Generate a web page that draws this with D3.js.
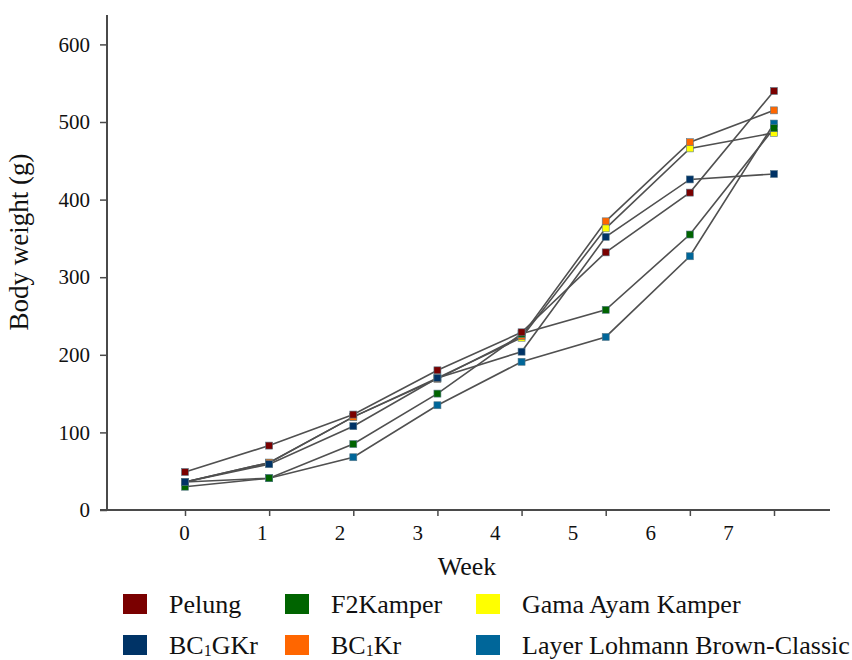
<!DOCTYPE html>
<html>
<head>
<meta charset="utf-8">
<script src="https://cdn.jsdelivr.net/npm/d3@7"></script>
<style>
  html, body { margin: 0; padding: 0; background: #fff; }
  svg { display: block; font-family: "Liberation Serif", "Times New Roman", serif; }
</style>
</head>
<body>
<svg id="chart" width="852" height="660" font-family="Liberation Serif, Times New Roman, serif"></svg>
<script>
// ---- data ----
const weeks = [0, 1, 2, 3, 4, 5, 6, 7];
const weekLabels = ["0", "1", "2", "3", "4", "5", "6", "7"];
const yTicks = [0, 100, 200, 300, 400, 500, 600];

const seriesNames = ["Gama Ayam Kamper", "Layer Lohmann Brown-Classic", "BC1Kr", "F2Kamper", "Pelung", "BC1GKr"];
const gamaAyamKamper = [36, 61, 120, 170, 222, 363, 466, 486];
const layerLohmann   = [36, 41, 68, 135, 191, 223, 327, 498];
const bc1Kr          = [36, 61, 120, 169, 224, 372, 474, 515];
const f2Kamper       = [30, 41, 85, 150, 227, 258, 355, 492];
const pelung         = [49, 83, 123, 180, 229, 332, 409, 540];
const bc1GKr         = [36, 59, 108, 170, 204, 352, 426, 433];

const seriesColors = {
  "Pelung": "#7a0000",
  "F2Kamper": "#006400",
  "Gama Ayam Kamper": "#ffff00",
  "BC1GKr": "#003366",
  "BC1Kr": "#ff6600",
  "Layer Lohmann Brown-Classic": "#006699"
};
const seriesValues = {
  "Gama Ayam Kamper": gamaAyamKamper,
  "Layer Lohmann Brown-Classic": layerLohmann,
  "BC1Kr": bc1Kr,
  "F2Kamper": f2Kamper,
  "Pelung": pelung,
  "BC1GKr": bc1GKr
};
const legendOrder = ["Pelung", "F2Kamper", "Gama Ayam Kamper", "BC1GKr", "BC1Kr", "Layer Lohmann Brown-Classic"];

// ---- chart ----
const FONT = "Liberation Serif, Times New Roman, serif";
const svg = d3.select("#chart");
const axisColor = "#4a4a4a";

const x = d3.scaleLinear().domain([0, 7]).range([185, 774]);
const xLabel = d3.scalePoint().domain(weekLabels).range([184, 728]);
const y = d3.scaleLinear().domain([0, 500]).range([510, 122]);

// X axis ticks (no labels)
const gx = svg.append("g").attr("transform", `translate(0,${y(0)})`)
  .call(d3.axisBottom(x).tickValues(weeks).tickFormat("").tickSize(6).tickSizeOuter(0));
gx.select(".domain").remove();
gx.selectAll(".tick line").attr("stroke", axisColor).attr("stroke-width", 1.5);
gx.append("line").attr("x1", 100).attr("x2", 830).attr("y1", 0).attr("y2", 0)
  .attr("stroke", axisColor).attr("stroke-width", 2);

// X labels
const gxl = svg.append("g").attr("transform", `translate(0,${y(0) + 12})`)
  .call(d3.axisBottom(xLabel).tickSize(0));
gxl.attr("font-family", FONT);
gxl.select(".domain").remove();
gxl.selectAll(".tick text").attr("font-family", FONT).attr("font-size", 21)
  .attr("fill", "#111").attr("dy", "0.71em");

// Y axis
const gy = svg.append("g").attr("transform", `translate(107,0)`)
  .call(d3.axisLeft(y).tickValues(yTicks).tickSize(7).tickPadding(10).tickSizeOuter(0));
gy.attr("font-family", FONT);
gy.select(".domain").remove();
gy.selectAll(".tick line").attr("stroke", axisColor).attr("stroke-width", 1.5);
gy.selectAll(".tick text").attr("font-family", FONT).attr("font-size", 21).attr("fill", "#111");
gy.append("line").attr("x1", 0).attr("x2", 0).attr("y1", y(0)).attr("y2", 15)
  .attr("stroke", axisColor).attr("stroke-width", 2);

// Axis titles
svg.append("text").attr("x", 467).attr("y", 575).attr("text-anchor", "middle")
  .attr("font-family", FONT).attr("font-size", 26).attr("fill", "#111").text("Week");
svg.append("text").attr("transform", `translate(28,242) rotate(-90)`).attr("text-anchor", "middle")
  .attr("font-family", FONT).attr("font-size", 27).attr("fill", "#111").text("Body weight (g)");

// Lines
const line = d3.line().x((d, i) => x(weeks[i])).y(d => y(d));
const plot = svg.append("g");
seriesNames.forEach(name => {
  plot.append("path").datum(seriesValues[name]).attr("d", line)
    .attr("fill", "none").attr("stroke", "#505050").attr("stroke-width", 1.6);
});
// Markers
const ms = 7;
seriesNames.forEach(name => {
  plot.selectAll(null).data(seriesValues[name]).enter().append("rect")
    .attr("x", (d, i) => x(weeks[i]) - ms / 2).attr("y", d => y(d) - ms / 2)
    .attr("width", ms).attr("height", ms)
    .attr("fill", seriesColors[name]).attr("stroke", "#5a7a8a").attr("stroke-width", 0.6);
});

// Legend
const legCols = [123, 285, 476];
const legRows = [594, 635];
const legend = svg.append("g");
legendOrder.forEach((name, i) => {
  const cx = legCols[i % 3], cy = legRows[Math.floor(i / 3)];
  legend.append("rect").attr("x", cx).attr("y", cy).attr("width", 24).attr("height", 20)
    .attr("fill", seriesColors[name]);
  const t = legend.append("text").attr("x", cx + 46).attr("y", cy + 19)
    .attr("font-family", FONT).attr("font-size", 26).attr("fill", "#111");
  const m = name.match(/^BC1(.*)$/);
  if (m) {
    t.append("tspan").text("BC");
    t.append("tspan").attr("font-size", 16).attr("dy", 2).text("1");
    t.append("tspan").attr("dy", -2).text(m[1]);
  } else {
    t.text(name);
  }
});
</script>
</body>
</html>
